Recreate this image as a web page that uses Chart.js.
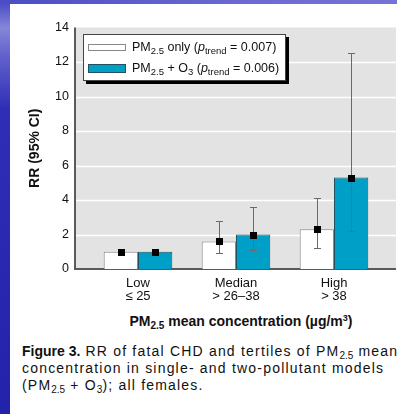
<!DOCTYPE html>
<html>
<head>
<meta charset="utf-8">
<script src="https://cdn.jsdelivr.net/npm/chart.js@4.4.1/dist/chart.umd.min.js"></script>
<style>
  html, body { margin:0; padding:0; }
  body {
    width:397px; height:414px; overflow:hidden; position:relative;
    font-family:"Liberation Sans", Arial, sans-serif;
    background: linear-gradient(to bottom, #4444c2 0px, #8686d8 28px, #6262cc 55px, #2e2eb6 110px, #2222aa 414px);
  }
  #topband { position:absolute; left:0; top:0; width:397px; height:4px;
    background: linear-gradient(to right, #4c4cc4, #6a6ad2 60%, #7474d6); }
  #panel { position:absolute; left:10px; top:4px; right:0; bottom:0; background:#fff; }
  #chart { position:absolute; left:0; top:0; }
  #legend { position:absolute; left:83px; top:34px; width:201px; height:45px;
    background:#fff; border:1px solid #444; box-shadow:3px 3px 0 #000; font-size:12.5px; color:#111; }
  .row { position:absolute; left:4px; white-space:nowrap; }
  .sw { display:inline-block; width:38px; vertical-align:middle; margin-right:6px; box-sizing:border-box; }
  .row sub { font-size:9.5px; vertical-align:-3px; line-height:0; }
  #xtitle { position:absolute; left:41px; top:313px; width:400px; text-align:center;
    font-weight:bold; font-size:14px; color:#111; white-space:nowrap; }
  #xtitle sub { font-size:10px; vertical-align:-3px; line-height:0; }
  #xtitle sup { font-size:9px; vertical-align:5px; line-height:0; }
  #caption { position:absolute; left:22px; top:343px; width:375px; overflow:hidden;
    white-space:nowrap; font-size:14px; line-height:17px; letter-spacing:1.2px; color:#111; }
  #caption sub { font-size:10px; vertical-align:-3px; line-height:0; letter-spacing:0; }
</style>
</head>
<body>
<div id="topband"></div>
<div id="panel"></div>
<canvas id="chart" width="397" height="305"></canvas>
<div id="legend">
  <div class="row" style="top:5px"><span class="sw" style="height:7px;background:#fff;border:1px solid #888"></span>PM<sub>2.5</sub> only (<i>p</i><sub>trend</sub> = 0.007)</div>
  <div class="row" style="top:26px"><span class="sw" style="height:9px;background:#009fc7;border:1px solid #24515e"></span>PM<sub>2.5</sub> + O<sub>3</sub> (<i>p</i><sub>trend</sub> = 0.006)</div>
</div>
<div id="xtitle">PM<sub>2.5</sub> mean concentration (µg/m<sup>3</sup>)</div>
<div id="caption"><b style="letter-spacing:0">Figure 3.</b> RR of fatal CHD and tertiles of PM<sub>2.5</sub> mean concentration<br>concentration in single- and two-pollutant models<br>(PM<sub>2.5</sub> + O<sub>3</sub>); all females.</div>

<script>
// tertiles of PM2.5 mean concentration
const categories = [['Low', '≤ 25'], ['Median', '> 26–38'], ['High', '> 38']];

// single-pollutant model
const pmOnly   = [1.0, 1.6, 2.3];
const pmOnlyLo = [null, 0.9, 1.2];
const pmOnlyHi = [null, 2.8, 4.1];

// two-pollutant model (PM2.5 + O3)
const pmO3   = [1.0, 2.0, 5.3];
const pmO3Lo = [null, 1.1, 2.2];
const pmO3Hi = [null, 3.6, 12.5];

const yMin = 0, yMax = 14, yStep = 2;

const FONT = "'Liberation Sans', Arial, sans-serif";

// grey plot panel, white grid lines and the two axis lines
const plotFrame = {
  id: 'plotFrame',
  beforeDatasetsDraw(chart) {
    const { ctx, scales: { y } } = chart;
    const left = 75, right = 396;
    const top = y.getPixelForValue(yMax), bottom = y.getPixelForValue(yMin);
    ctx.save();
    ctx.fillStyle = '#e3e3e3';
    ctx.fillRect(left, top, right - left, bottom - top);
    ctx.strokeStyle = '#ffffff';
    ctx.lineWidth = 1.5;
    y.ticks.forEach(t => {
      if (t.value <= yMin || t.value >= yMax) return;
      const py = Math.round(y.getPixelForValue(t.value)) + 0.5;
      ctx.beginPath(); ctx.moveTo(left, py); ctx.lineTo(right, py); ctx.stroke();
    });
    ctx.strokeStyle = '#5a5a5a';
    ctx.lineWidth = 2;
    ctx.beginPath();
    ctx.moveTo(left, top); ctx.lineTo(left, bottom + 1);
    ctx.moveTo(left - 1, bottom); ctx.lineTo(right, bottom);
    ctx.stroke();
    ctx.restore();
  }
};

// 95% CI whiskers and the black point estimate on each bar
const ciMarks = {
  id: 'ciMarks',
  afterDatasetsDraw(chart) {
    const { ctx, scales: { y } } = chart;
    ctx.save();
    chart.data.datasets.forEach((ds, i) => {
      chart.getDatasetMeta(i).data.forEach((bar, j) => {
        const x = Math.round(bar.x) + 0.5;
        const lo = ds.ciLo[j], hi = ds.ciHi[j];
        if (lo != null && hi != null) {
          const yLo = Math.round(y.getPixelForValue(lo)) + 0.5;
          const yHi = Math.round(y.getPixelForValue(hi)) + 0.5;
          ctx.strokeStyle = '#6a6a6a';
          ctx.lineWidth = 1;
          ctx.beginPath();
          ctx.moveTo(x, yLo); ctx.lineTo(x, yHi);
          ctx.moveTo(x - 3.5, yLo); ctx.lineTo(x + 3.5, yLo);
          ctx.moveTo(x - 3.5, yHi); ctx.lineTo(x + 3.5, yHi);
          ctx.stroke();
        }
        const py = y.getPixelForValue(ds.data[j]);
        ctx.fillStyle = '#000';
        ctx.fillRect(Math.round(bar.x) - 3, Math.round(py) - 3, 7, 7);
      });
    });
    ctx.restore();
  }
};

new Chart(document.getElementById('chart'), {
  type: 'bar',
  data: {
    labels: categories,
    datasets: [
      { label: 'PM2.5 only', data: pmOnly, ciLo: pmOnlyLo, ciHi: pmOnlyHi,
        backgroundColor: '#ffffff', borderColor: '#8a8a8a', borderWidth: 1 },
      { label: 'PM2.5 + O3', data: pmO3, ciLo: pmO3Lo, ciHi: pmO3Hi,
        backgroundColor: '#009fc7', borderColor: '#24515e', borderWidth: 1 }
    ]
  },
  options: {
    responsive: false,
    animation: false,
    devicePixelRatio: 1,
    categoryPercentage: 0.7,
    barPercentage: 1.0,
    layout: { padding: { top: 26, right: 14, left: 0, bottom: 0 } },
    plugins: { legend: { display: false }, tooltip: { enabled: false } },
    scales: {
      x: {
        grid: { display: false, drawTicks: false },
        border: { display: false },
        ticks: { color: '#111', padding: 8, font: { family: FONT, size: 13, lineHeight: 1.0 } },
        afterFit: s => { s.height = 36; }
      },
      y: {
        min: yMin, max: yMax,
        grid: { display: false, drawTicks: false },
        border: { display: false },
        ticks: { stepSize: yStep, color: '#111', padding: 20, font: { family: FONT, size: 12.5 } },
        title: { display: true, text: 'RR (95% CI)', color: '#111',
                 font: { family: FONT, size: 14, weight: 'bold' }, padding: { top: 27, bottom: 0 } },
        afterFit: s => { s.width = 89; }
      }
    }
  },
  plugins: [plotFrame, ciMarks]
});
</script>
</body>
</html>
